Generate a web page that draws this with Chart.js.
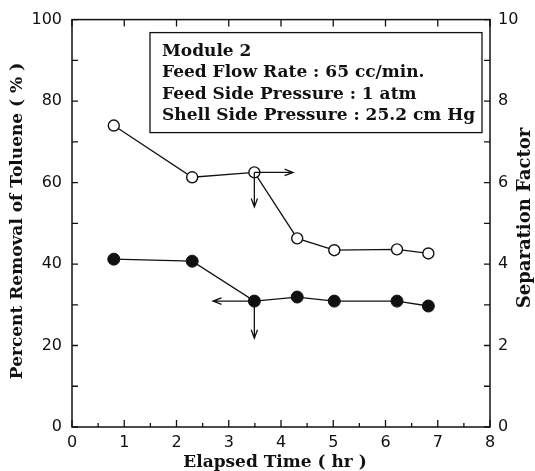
<!DOCTYPE html>
<html lang="en">
<head>
    <meta charset="UTF-8">
    <title>Toluene removal</title>
    <script src="https://cdn.jsdelivr.net/npm/chart.js"></script>
    <style>
        body { margin: 0; background: #fff; }
        canvas { display: block; }
    </style>
</head>
<body>
    <canvas id="myChart" width="535" height="471"></canvas>

<script>
    // values
    const timeHr = [0.80, 2.30, 3.49, 4.31, 5.02, 6.22, 6.82];
    const removalPct = [41.2, 40.7, 30.9, 31.9, 30.9, 30.9, 29.7];
    const sepFactor = [7.40, 6.13, 6.25, 4.63, 4.34, 4.36, 4.26];

    const noteLines = [
        'Module 2',
        'Feed Flow Rate : 65 cc/min.',
        'Feed Side Pressure : 1 atm',
        'Shell Side Pressure : 25.2 cm Hg'
    ];

    // arrows telling which axis each curve belongs to (data units)
    const arrowAxis = ['y2', 'y2', 'y', 'y'];
    const arrowFromX = [3.49, 3.49, 3.49, 3.49];
    const arrowFromY = [6.25, 6.25, 30.9, 30.9];
    const arrowToX = [3.49, 4.23, 3.49, 2.70];
    const arrowToY = [5.40, 6.25, 21.8, 30.9];

    const ink = '#111';
    const tickFont = { family: 'DejaVu Sans', size: 16 };
    const serif = '"DejaVu Serif", serif';

    function drawArrow(ctx, x0, y0, x1, y1) {
        const ang = Math.atan2(y1 - y0, x1 - x0);
        const len = 9, spread = 0.36;
        ctx.beginPath();
        ctx.moveTo(x0, y0);
        ctx.lineTo(x1, y1);
        ctx.moveTo(x1 - len * Math.cos(ang - spread), y1 - len * Math.sin(ang - spread));
        ctx.lineTo(x1, y1);
        ctx.lineTo(x1 - len * Math.cos(ang + spread), y1 - len * Math.sin(ang + spread));
        ctx.stroke();
    }

    const decorations = {
        id: 'decorations',
        afterDraw(chart) {
            const ctx = chart.ctx;
            const a = chart.chartArea;
            const sx = chart.scales.x, sy = chart.scales.y, sy2 = chart.scales.y2;
            ctx.save();
            ctx.strokeStyle = ink;
            ctx.fillStyle = ink;

            // frame
            ctx.lineWidth = 1.5;
            ctx.strokeRect(a.left, a.top, a.right - a.left, a.bottom - a.top);

            // inward tick marks
            ctx.lineWidth = 1.3;
            ctx.beginPath();
            for (let v = 0; v <= 8; v += 0.5) {
                const px = sx.getPixelForValue(v);
                const major = v % 1 === 0;
                ctx.moveTo(px, a.bottom);
                ctx.lineTo(px, a.bottom - (major ? 7 : 4));
                if (major) {
                    ctx.moveTo(px, a.top);
                    ctx.lineTo(px, a.top + 7);
                }
            }
            for (let v = 0; v <= 100; v += 10) {
                const py = sy.getPixelForValue(v);
                ctx.moveTo(a.left, py);
                ctx.lineTo(a.left + 6, py);
            }
            for (let v = 0; v <= 10; v += 1) {
                const py = sy2.getPixelForValue(v);
                ctx.moveTo(a.right, py);
                ctx.lineTo(a.right - 6, py);
            }
            ctx.stroke();

            // arrows
            for (let i = 0; i < arrowAxis.length; i++) {
                const ys = chart.scales[arrowAxis[i]];
                drawArrow(ctx,
                    sx.getPixelForValue(arrowFromX[i]), ys.getPixelForValue(arrowFromY[i]),
                    sx.getPixelForValue(arrowToX[i]), ys.getPixelForValue(arrowToY[i]));
            }

            // note box
            ctx.lineWidth = 1.3;
            ctx.strokeRect(a.left + 78, a.top + 13, 332, 100);
            ctx.font = 'bold 17px ' + serif;
            ctx.textAlign = 'left';
            ctx.textBaseline = 'middle';
            noteLines.forEach((t, i) => {
                ctx.fillText(t, a.left + 90, a.top + 32 + i * 21.3);
            });

            // axis titles
            ctx.textAlign = 'center';
            ctx.fillText('Elapsed Time ( hr )', 275, 463);

            ctx.save();
            ctx.translate(18, 221);
            ctx.rotate(-Math.PI / 2);
            ctx.fillText('Percent Removal of Toluene ( % )', 0, 0);
            ctx.restore();

            ctx.save();
            ctx.font = 'bold 18px ' + serif;
            ctx.translate(525, 218);
            ctx.rotate(-Math.PI / 2);
            ctx.fillText('Separation Factor', 0, 0);
            ctx.restore();

            ctx.restore();
        }
    };

    const ctx = document.getElementById('myChart').getContext('2d');
    const myChart = new Chart(ctx, {
        type: 'line',
        data: {
            datasets: [{
                label: 'Percent Removal of Toluene',
                data: timeHr.map((t, i) => ({ x: t, y: removalPct[i] })),
                yAxisID: 'y',
                borderColor: ink,
                borderWidth: 1.3,
                pointRadius: 6,
                pointBackgroundColor: ink,
                pointBorderColor: ink,
                pointBorderWidth: 1,
                tension: 0,
                fill: false
            }, {
                label: 'Separation Factor',
                data: timeHr.map((t, i) => ({ x: t, y: sepFactor[i] })),
                yAxisID: 'y2',
                borderColor: ink,
                borderWidth: 1.3,
                pointRadius: 5.5,
                pointBackgroundColor: '#fff',
                pointBorderColor: ink,
                pointBorderWidth: 1.4,
                tension: 0,
                fill: false
            }]
        },
        options: {
            responsive: false,
            animation: false,
            devicePixelRatio: 1,
            layout: { padding: { top: 19, left: 0, right: 0, bottom: 0 } },
            plugins: {
                legend: { display: false },
                tooltip: { enabled: false }
            },
            scales: {
                x: {
                    type: 'linear',
                    min: 0,
                    max: 8,
                    ticks: { stepSize: 1, font: tickFont, color: ink, padding: 6 },
                    grid: { display: false, drawTicks: false },
                    border: { display: false },
                    afterFit: s => { s.height = 44; }
                },
                y: {
                    position: 'left',
                    min: 0,
                    max: 100,
                    ticks: { stepSize: 20, font: tickFont, color: ink, padding: 10 },
                    grid: { display: false, drawTicks: false },
                    border: { display: false },
                    afterFit: s => { s.width = 72; }
                },
                y2: {
                    position: 'right',
                    min: 0,
                    max: 10,
                    ticks: { stepSize: 2, font: tickFont, color: ink, padding: 8 },
                    grid: { display: false, drawTicks: false },
                    border: { display: false },
                    afterFit: s => { s.width = 45; }
                }
            }
        },
        plugins: [decorations]
    });
</script>
</body>
</html>
